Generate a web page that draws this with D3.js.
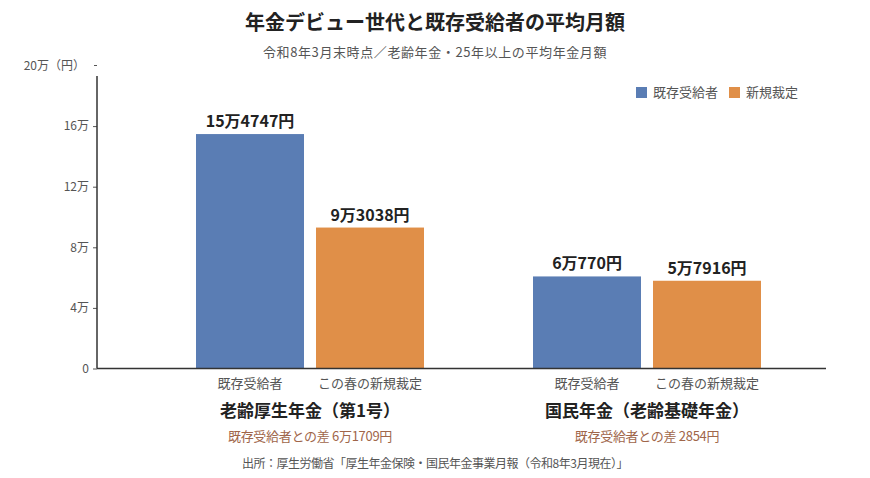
<!DOCTYPE html>
<html>
<head>
<meta charset="utf-8">
<script src="https://cdn.jsdelivr.net/npm/d3@7"></script>
<style>
  body { margin: 0; background: #fff; }
  svg { font-family: "Noto Sans CJK JP", "Noto Sans", sans-serif; }
</style>
</head>
<body>
<svg id="chart" width="870" height="478"></svg>
<script>
// data
const groups = ["老齢厚生年金（第1号）", "国民年金（老齢基礎年金）"];
const diffLabels = ["既存受給者との差 6万1709円", "既存受給者との差 2854円"];
const seriesNames = ["既存受給者", "新規裁定"];
const barLabels = ["既存受給者", "この春の新規裁定"];
const existingValues = [154747, 60770];
const newValues = [93038, 57916];
const valueLabels = [["15万4747円", "9万3038円"], ["6万770円", "5万7916円"]];
const yTicks = [0, 40000, 80000, 120000, 160000];
const yTickLabels = ["0", "4万", "8万", "12万", "16万"];

const COLORS = ["#5a7db4", "#e08f48"];
const AXIS_X = 97, AXIS_RIGHT = 826, BASE_Y = 368.5, Y_TOP = 65.5;

const svg = d3.select("#chart");

// scales
const y = d3.scaleLinear().domain([0, 200000]).range([BASE_Y, Y_TOP]);
const x0 = d3.scaleBand().domain(groups).range([141.5, 815.5]);
const x1 = d3.scaleBand().domain(seriesNames).range([-114, 114]).paddingInner(0.1);

// title
svg.append("text").attr("x", 435).attr("y", 30).attr("text-anchor", "middle")
   .attr("font-size", 20).attr("font-weight", "bold").attr("fill", "#222")
   .text("年金デビュー世代と既存受給者の平均月額");
svg.append("text").attr("x", 435).attr("y", 57).attr("text-anchor", "middle")
   .attr("font-size", 13).attr("fill", "#555").attr("letter-spacing", 0.6)
   .text("令和8年3月末時点／老齢年金・25年以上の平均年金月額");

// y axis
const yAxis = svg.append("g").attr("transform", "translate(" + AXIS_X + ",0)")
   .call(d3.axisLeft(y).tickValues(yTicks).tickFormat((d, i) => yTickLabels[i])
           .tickSize(4).tickPadding(4));
yAxis.select(".domain").remove();
yAxis.selectAll("line").attr("stroke", "#555");
yAxis.selectAll("text").attr("font-size", 12).attr("fill", "#555")
   .attr("font-family", "\"Noto Sans CJK JP\", sans-serif");
svg.append("line").attr("x1", AXIS_X).attr("x2", AXIS_X)
   .attr("y1", 76).attr("y2", BASE_Y).attr("stroke", "#333").attr("stroke-width", 1.5);
svg.append("line").attr("x1", AXIS_X - 3).attr("x2", AXIS_X)
   .attr("y1", y(200000)).attr("y2", y(200000)).attr("stroke", "#555");
svg.append("text").attr("x", AXIS_X - 12).attr("y", y(200000)).attr("dy", "0.35em")
   .attr("text-anchor", "end").attr("font-size", 12).attr("fill", "#555")
   .text("20万（円）");

// bars
const rows = groups.map((g, i) => ({ g: g, i: i, vals: [existingValues[i], newValues[i]] }));
const gs = svg.selectAll("g.grp").data(rows).enter().append("g")
   .attr("class", "grp")
   .attr("transform", d => "translate(" + (x0(d.g) + x0.bandwidth() / 2) + ",0)");

gs.selectAll("rect").data(d => d.vals.map((v, j) => ({ v: v, j: j }))).enter().append("rect")
   .attr("x", d => x1(seriesNames[d.j]))
   .attr("width", x1.bandwidth())
   .attr("y", d => y(d.v))
   .attr("height", d => BASE_Y - y(d.v))
   .attr("fill", d => COLORS[d.j]);

gs.selectAll("text.val").data(d => d.vals.map((v, j) => ({ v: v, j: j, lab: valueLabels[d.i][j] })))
   .enter().append("text").attr("class", "val")
   .attr("x", d => x1(seriesNames[d.j]) + x1.bandwidth() / 2)
   .attr("y", d => y(d.v) - 7)
   .attr("text-anchor", "middle").attr("font-size", 16).attr("font-weight", "bold")
   .attr("fill", "#222").text(d => d.lab);

gs.selectAll("text.cat").data(seriesNames).enter().append("text").attr("class", "cat")
   .attr("x", (d) => x1(d) + x1.bandwidth() / 2)
   .attr("y", 388)
   .attr("text-anchor", "middle").attr("font-size", 13).attr("fill", "#555")
   .text((d, j) => barLabels[j]);

gs.append("text").attr("y", 417).attr("text-anchor", "middle")
   .attr("font-size", 17).attr("font-weight", "bold").attr("fill", "#222")
   .text(d => d.g);
gs.append("text").attr("y", 441).attr("text-anchor", "middle")
   .attr("font-size", 13).attr("fill", "#a0664a").attr("letter-spacing", -0.3)
   .text(d => diffLabels[d.i]);

// baseline
svg.append("line").attr("x1", AXIS_X).attr("x2", AXIS_RIGHT)
   .attr("y1", BASE_Y).attr("y2", BASE_Y).attr("stroke", "#333").attr("stroke-width", 1.5);

// legend
const legendX = [636, 729];
const leg = svg.selectAll("g.leg").data(seriesNames).enter().append("g")
   .attr("class", "leg")
   .attr("transform", (d, i) => "translate(" + legendX[i] + ",87)");
leg.append("rect").attr("width", 11).attr("height", 11).attr("fill", (d, i) => COLORS[i]);
leg.append("text").attr("x", 17).attr("y", 5.5).attr("dy", "0.35em")
   .attr("font-size", 13).attr("fill", "#555").text(d => d);

// source
svg.append("text").attr("x", 435).attr("y", 468).attr("text-anchor", "middle")
   .attr("font-size", 12).attr("fill", "#555").attr("letter-spacing", -0.5)
   .text("出所：厚生労働省「厚生年金保険・国民年金事業月報（令和8年3月現在）」");
</script>
</body>
</html>
